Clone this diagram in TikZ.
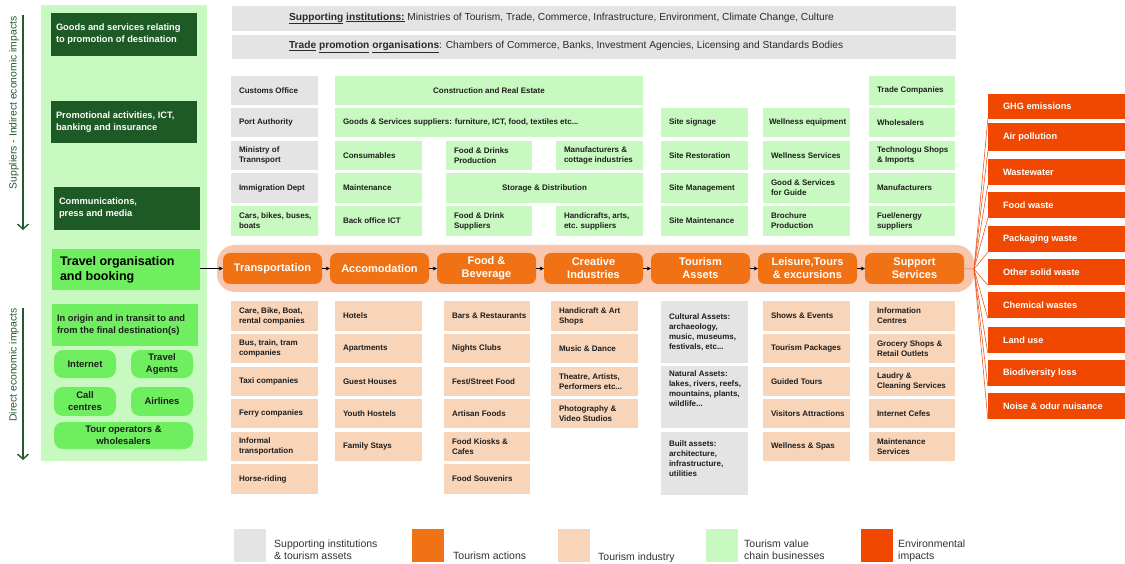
\documentclass[tikz,border=0pt]{standalone}
\usepackage{fontspec}
\setmainfont{Liberation Sans}
\usetikzlibrary{arrows.meta}
\definecolor{dkgreen}{HTML}{1E5A26}
\definecolor{panelgreen}{HTML}{C8F9C0}
\definecolor{vcgreen}{HTML}{C8F9C0}
\definecolor{brightgreen}{HTML}{6FEE5F}
\definecolor{suppgray}{HTML}{E4E4E4}
\definecolor{actorange}{HTML}{F07214}
\definecolor{indpeach}{HTML}{F8D4B8}
\definecolor{envred}{HTML}{F04800}
\definecolor{pillbg}{HTML}{F8C5AD}
\definecolor{arrowgreen}{HTML}{225C2C}
\definecolor{txt}{HTML}{1E1E1E}
\definecolor{bartext}{HTML}{2A2A2A}
\definecolor{legtext}{HTML}{333333}
\definecolor{fanline}{HTML}{F05A22}
\newcommand\bx[8]{%
  \pgfmathsetmacro\bxcx{(#4+#6)/2}%
  \pgfmathsetmacro\bxcy{(#5+#7)/2}%
  \pgfmathsetmacro\bxw{#6-#4}%
  \pgfmathsetmacro\bxh{#7-#5}%
  \node[cellbox,#2,minimum width=\bxw pt,minimum height=\bxh pt] (#1) at (\bxcx,\bxcy) {};%
  \node[#3,anchor=west] (#1-t) at (#1.west) {#8};%
}
\newcommand\bxc[7]{%
  \pgfmathsetmacro\bxcx{(#3+#5)/2}%
  \pgfmathsetmacro\bxcy{(#4+#6)/2}%
  \pgfmathsetmacro\bxw{#5-#3}%
  \pgfmathsetmacro\bxh{#6-#4}%
  \node[cellbox,#2,minimum width=\bxw pt,minimum height=\bxh pt] (#1) at (\bxcx,\bxcy) {#7};%
}
\begin{document}
\begin{tikzpicture}[x=1pt,y=-1pt,
 cellbox/.style={rectangle,inner sep=0pt,draw=none},
 fsg/.style={fill=suppgray},
 fvg/.style={fill=vcgreen},
 fti/.style={fill=indpeach},
 fdk/.style={fill=dkgreen},
 fbg/.style={fill=brightgreen},
 fev/.style={fill=envred},
 ctxt/.style={font=\fontsize{8}{10}\selectfont\bfseries,text=txt,align=left,inner sep=0pt,xshift=8pt},
 cctxt/.style={font=\fontsize{8}{10}\selectfont\bfseries,text=txt,align=center},
 dtxt/.style={font=\fontsize{9.3}{12}\selectfont\bfseries,text=white,align=left,inner sep=0pt,xshift=5pt},
 ttxt/.style={font=\fontsize{12.5}{15}\selectfont\bfseries,text=black,align=left,inner sep=0pt,xshift=8pt},
 otxt/.style={font=\fontsize{9.3}{12}\selectfont\bfseries,text=txt,align=left,inner sep=0pt,xshift=5pt},
 pill/.style={fill=brightgreen,rounded corners=9pt,font=\fontsize{9.5}{12}\selectfont\bfseries,text=txt,align=center},
 act/.style={fill=actorange,rounded corners=7pt,font=\fontsize{11}{13}\selectfont\bfseries,text=white,align=center},
 etxt/.style={font=\fontsize{9.2}{11}\selectfont\bfseries,text=white,align=left,inner sep=0pt,xshift=15pt},
 bartxt/.style={font=\fontsize{10.2}{12}\selectfont,text=bartext,inner sep=0pt,xshift=57pt},
 legtxt/.style={font=\fontsize{10.5}{12}\selectfont,text=legtext,align=left,inner sep=0pt,anchor=south west,text depth=2.5pt},
 flow/.style={-{Stealth[length=4pt,width=4pt]},black,line width=0.6pt},
 side/.style={-{Straight Barb[length=5pt,width=11pt]},arrowgreen,line width=1.4pt},
 sidetxt/.style={rotate=90,font=\fontsize{10.4}{12}\selectfont,text=arrowgreen,inner sep=0pt},
 fan/.style={fanline,line width=0.6pt},
 fanlink/.style={pillbg!70!fanline,line width=1.2pt},
]
\useasboundingbox (0,0) rectangle (1125,564);
\fill[white] (0,0) rectangle (1125,564);

% ---------- left panel ----------
\node[cellbox,fill=panelgreen,minimum width=166pt,minimum height=456pt] (panel) at (124,233) {};
\bx{d1}{fdk}{dtxt}{51}{13}{197}{56}{Goods and services relating\\to promotion of destination}
\bx{d2}{fdk}{dtxt}{51}{101}{197}{143}{Promotional activities, ICT,\\banking and insurance}
\bx{d3}{fdk}{dtxt}{54}{187}{200}{230}{Communications,\\press and media}
\bx{travel}{fbg}{ttxt}{52}{249}{200}{290}{Travel organisation\\and booking}
\bx{orig}{fbg}{otxt}{52}{304}{198}{346}{In origin and in transit to and\\from the final destination(s)}
\bxc{p1}{pill}{54}{350}{116}{378}{Internet}
\bxc{p2}{pill}{131}{350}{193}{378}{Travel\\Agents}
\bxc{p3}{pill}{54}{387}{116}{416}{Call\\centres}
\bxc{p4}{pill}{131}{387}{193}{416}{Airlines}
\bxc{p5}{pill}{54}{422}{193}{449}{Tour operators \&\\wholesalers}

\coordinate (sA1) at (23,15); \coordinate (sA2) at (23,230);
\draw[side] (sA1) -- (sA2);
\node[sidetxt] (sT1) at (14,103) {Suppliers - Indirect economic impacts};
\coordinate (sB1) at (23,308); \coordinate (sB2) at (23,460);
\draw[side] (sB1) -- (sB2);
\node[sidetxt] (sT2) at (14,365) {Direct economic impacts};

% ---------- top bars ----------
\bx{bar1}{fsg}{bartxt}{232}{6}{956}{31}{\underline{\textbf{Supporting}} \underline{\textbf{institutions:}} Ministries of Tourism, Trade, Commerce, Infrastructure, Environment, Climate Change, Culture}
\bx{bar2}{fsg}{bartxt}{232}{35}{956}{59}{\underline{\textbf{Trade}} \underline{\textbf{promotion}} \underline{\textbf{organisations}}: Chambers of Commerce, Banks, Investment Agencies, Licensing and Standards Bodies}

% ---------- upper grid ----------
\bx{cu1}{fsg}{ctxt}{231}{76}{318}{105}{Customs Office}
\bx{cu2}{fsg}{ctxt}{231}{108}{318}{137}{Port Authority}
\bx{cu3}{fsg}{ctxt}{231}{141}{318}{170}{Ministry of\\Trannsport}
\bx{cu4}{fsg}{ctxt}{231}{173}{318}{203}{Immigration Dept}
\bx{cu5}{fvg}{ctxt}{231}{206}{318}{236}{Cars, bikes, buses,\\boats}
\bxc{cons}{fvg,cctxt}{335}{76}{643}{105}{Construction and Real Estate}
\bx{gs}{fvg}{ctxt}{335}{108}{643}{137}{Goods \& Services suppliers: furniture, ICT, food, textiles etc...}
\bx{ac3}{fvg}{ctxt}{335}{141}{422}{170}{Consumables}
\bx{ac4}{fvg}{ctxt}{335}{173}{422}{203}{Maintenance}
\bx{ac5}{fvg}{ctxt}{335}{206}{422}{236}{Back office ICT}
\bx{fb3}{fvg}{ctxt}{446}{141}{532}{170}{Food \& Drinks\\Production}
\bxc{stor}{fvg,cctxt}{446}{173}{643}{203}{Storage \& Distribution}
\bx{fb5}{fvg}{ctxt}{446}{206}{532}{236}{Food \& Drink\\Suppliers}
\bx{cr3}{fvg}{ctxt}{556}{141}{643}{170}{Manufacturers \&\\cottage industries}
\bx{cr5}{fvg}{ctxt}{556}{206}{643}{236}{Handicrafts, arts,\\etc. suppliers}
\bx{as2}{fvg}{ctxt}{661}{108}{748}{137}{Site signage}
\bx{as3}{fvg}{ctxt}{661}{141}{748}{170}{Site Restoration}
\bx{as4}{fvg}{ctxt}{661}{173}{748}{203}{Site Management}
\bx{as5}{fvg}{ctxt}{661}{206}{748}{236}{Site Maintenance}
\bx{le2}{fvg}{ctxt,xshift=-2pt}{763}{108}{850}{137}{Wellness equipment}
\bx{le3}{fvg}{ctxt}{763}{141}{850}{170}{Wellness Services}
\bx{le4}{fvg}{ctxt}{763}{173}{850}{203}{Good \& Services\\for Guide}
\bx{le5}{fvg}{ctxt}{763}{206}{850}{236}{Brochure\\Production}
\bx{su1}{fvg}{ctxt}{869}{76}{955}{105}{Trade Companies}
\bx{su2}{fvg}{ctxt}{869}{108}{955}{137}{Wholesalers}
\bx{su3}{fvg}{ctxt}{869}{141}{955}{170}{Technologu Shops\\\& Imports}
\bx{su4}{fvg}{ctxt}{869}{173}{955}{203}{Manufacturers}
\bx{su5}{fvg}{ctxt}{869}{206}{955}{236}{Fuel/energy\\suppliers}

% ---------- tourism actions row ----------
\node[cellbox,fill=pillbg,rounded corners=18pt,minimum width=757pt,minimum height=47pt] (row) at (595.5,268.5) {};
\bxc{a1}{act}{223}{253}{322}{284}{Transportation}
\bxc{a2}{act}{330}{253}{429}{284}{Accomodation}
\bxc{a3}{act}{437}{253}{536}{284}{Food \&\\Beverage}
\bxc{a4}{act}{544}{253}{643}{284}{Creative\\Industries}
\bxc{a5}{act}{651}{253}{750}{284}{Tourism\\Assets}
\bxc{a6}{act}{758}{253}{857}{284}{Leisure,Tours\\\& excursions}
\bxc{a7}{act}{865}{253}{964}{284}{Support\\Services}
\draw[flow] (travel.east |- a1.west) -- (a1.west);
\draw[flow] (a1) -- (a2);
\draw[flow] (a2) -- (a3);
\draw[flow] (a3) -- (a4);
\draw[flow] (a4) -- (a5);
\draw[flow] (a5) -- (a6);
\draw[flow] (a6) -- (a7);

% ---------- lower grid ----------
\bx{lt1}{fti}{ctxt}{231}{301}{318}{331}{Care, Bike, Boat,\\rental companies}
\bx{lt2}{fti}{ctxt}{231}{334}{318}{363}{Bus, train, tram\\companies}
\bx{lt3}{fti}{ctxt}{231}{367}{318}{396}{Taxi companies}
\bx{lt4}{fti}{ctxt}{231}{399}{318}{428}{Ferry companies}
\bx{lt5}{fti}{ctxt}{231}{432}{318}{461}{Informal\\transportation}
\bx{lt6}{fti}{ctxt}{231}{464}{318}{494}{Horse-riding}
\bx{la1}{fti}{ctxt}{335}{301}{422}{331}{Hotels}
\bx{la2}{fti}{ctxt}{335}{334}{422}{363}{Apartments}
\bx{la3}{fti}{ctxt}{335}{367}{422}{396}{Guest Houses}
\bx{la4}{fti}{ctxt}{335}{399}{422}{428}{Youth Hostels}
\bx{la5}{fti}{ctxt}{335}{432}{422}{461}{Family Stays}
\bx{lf1}{fti}{ctxt}{444}{301}{530}{331}{Bars \& Restaurants}
\bx{lf2}{fti}{ctxt}{444}{334}{530}{363}{Nights Clubs}
\bx{lf3}{fti}{ctxt}{444}{367}{530}{396}{Fest/Street Food}
\bx{lf4}{fti}{ctxt}{444}{399}{530}{428}{Artisan Foods}
\bx{lf5}{fti}{ctxt}{444}{432}{530}{461}{Food Kiosks \&\\Cafes}
\bx{lf6}{fti}{ctxt}{444}{464}{530}{494}{Food Souvenirs}
\bx{lc1}{fti}{ctxt}{551}{301}{638}{331}{Handicraft \& Art\\Shops}
\bx{lc2}{fti}{ctxt}{551}{334}{638}{363}{Music \& Dance}
\bx{lc3}{fti}{ctxt}{551}{367}{638}{396}{Theatre, Artists,\\Performers etc...}
\bx{lc4}{fti}{ctxt}{551}{399}{638}{428}{Photography \&\\Video Studios}
\bx{ca}{fsg}{ctxt}{661}{301}{748}{363}{Cultural Assets:\\archaeology,\\music, museums,\\festivals, etc...}
\bx{na}{fsg}{ctxt,yshift=8pt}{661}{366}{748}{428}{Natural Assets:\\lakes, rivers, reefs,\\mountains, plants,\\wildlife...}
\bx{ba}{fsg}{ctxt,yshift=5pt}{661}{432}{748}{495}{Built assets:\\architecture,\\infrastructure,\\utilities}
\bx{ll1}{fti}{ctxt}{763}{301}{850}{331}{Shows \& Events}
\bx{ll2}{fti}{ctxt}{763}{334}{850}{363}{Tourism Packages}
\bx{ll3}{fti}{ctxt}{763}{367}{850}{396}{Guided Tours}
\bx{ll4}{fti}{ctxt}{763}{399}{850}{428}{Visitors Attractions}
\bx{ll5}{fti}{ctxt}{763}{432}{850}{461}{Wellness \& Spas}
\bx{ls1}{fti}{ctxt}{869}{301}{955}{331}{Information\\Centres}
\bx{ls2}{fti}{ctxt}{869}{334}{955}{363}{Grocery Shops \&\\Retail Outlets}
\bx{ls3}{fti}{ctxt}{869}{367}{955}{396}{Laudry \&\\Cleaning Services}
\bx{ls4}{fti}{ctxt}{869}{399}{955}{428}{Internet Cefes}
\bx{ls5}{fti}{ctxt}{869}{432}{955}{461}{Maintenance\\Services}

% ---------- environmental impacts ----------
\bx{e1}{fev}{etxt}{988}{94}{1125}{119}{GHG emissions}
\bx{e2}{fev}{etxt}{988}{123}{1125}{151}{Air pollution}
\bx{e3}{fev}{etxt}{988}{159}{1125}{185}{Wastewater}
\bx{e4}{fev}{etxt}{988}{192}{1125}{218}{Food waste}
\bx{e5}{fev}{etxt}{988}{226}{1125}{252}{Packaging waste}
\bx{e6}{fev}{etxt}{988}{259}{1125}{285}{Other solid waste}
\bx{e7}{fev}{etxt}{988}{292}{1125}{318}{Chemical wastes}
\bx{e8}{fev}{etxt}{988}{327}{1125}{353}{Land use}
\bx{e9}{fev}{etxt}{988}{360}{1125}{386}{Biodiversity loss}
\bx{e10}{fev}{etxt}{988}{393}{1125}{419}{Noise \& odur nuisance}
\coordinate (fo) at (974,269);
\draw[fanlink] (a7.east) -- (fo);
\foreach \e in {e1,e2,e3,e4,e5,e6,e7,e8,e9,e10} {\draw[fan] (fo) -- (\e.south west);}

% ---------- legend ----------
\node[cellbox,fill=suppgray,minimum width=32pt,minimum height=33pt] (lg1) at (250,545.5) {};
\node[legtxt] (lg1t) at (274,562.5) {Supporting institutions\\\& tourism assets};
\node[cellbox,fill=actorange,minimum width=32pt,minimum height=33pt] (lg2) at (428,545.5) {};
\node[legtxt] (lg2t) at (453,562.5) {Tourism actions};
\node[cellbox,fill=indpeach,minimum width=32pt,minimum height=33pt] (lg3) at (574,545.5) {};
\node[legtxt] (lg3t) at (598,563.5) {Tourism industry};
\node[cellbox,fill=vcgreen,minimum width=32pt,minimum height=33pt] (lg4) at (721.5,545.5) {};
\node[legtxt] (lg4t) at (744,562) {Tourism value\\chain businesses};
\node[cellbox,fill=envred,minimum width=32pt,minimum height=33pt] (lg5) at (877,545.5) {};
\node[legtxt] (lg5t) at (898,562.5) {Environmental\\impacts};
\end{tikzpicture}
\end{document}
